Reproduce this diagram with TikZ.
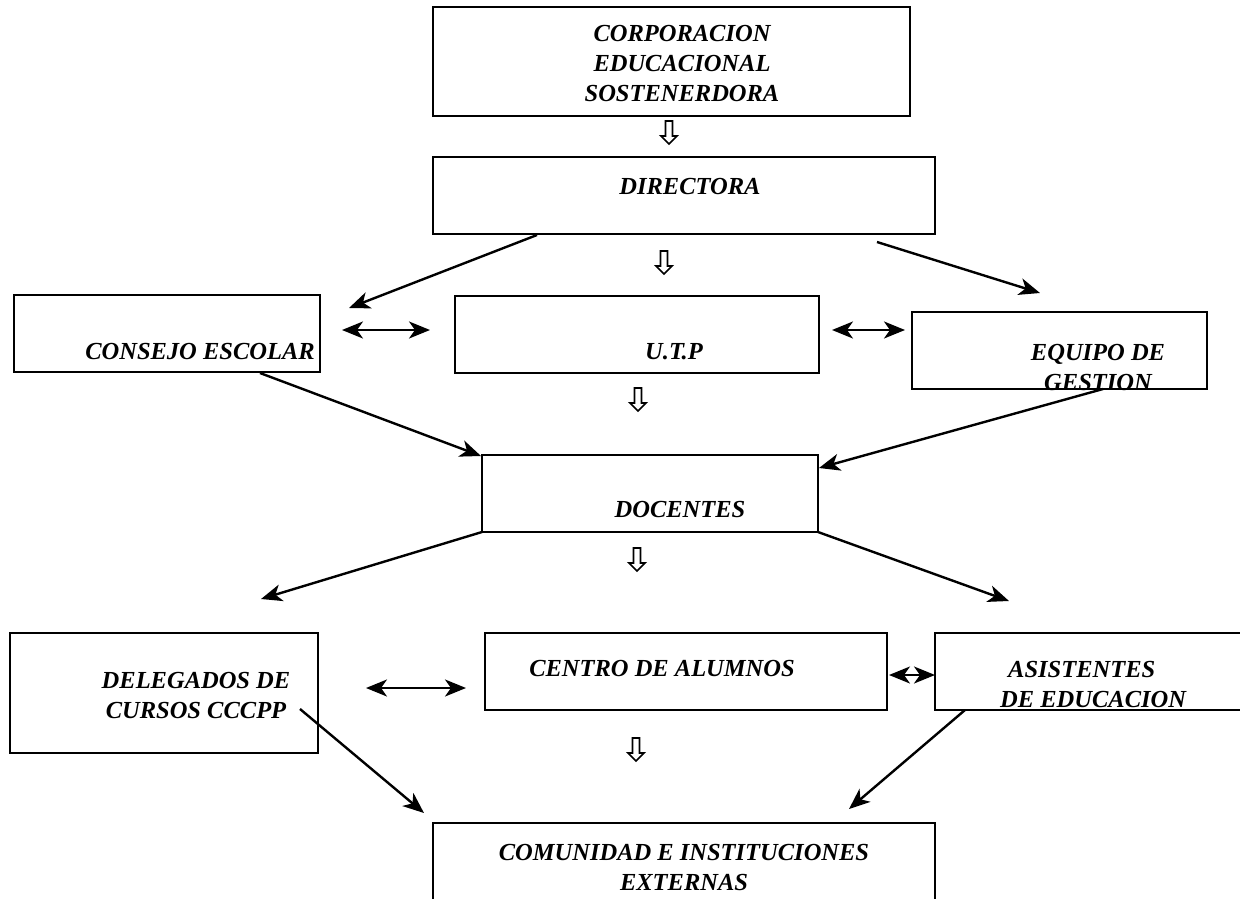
\documentclass[tikz,border=0pt]{standalone}
\usepackage{fontspec}
\setmainfont{Liberation Serif}
\usetikzlibrary{arrows.meta}
\newcommand\lblfont{\fontsize{24.5}{30}\selectfont\bfseries\itshape}
\tikzset{
  box/.style={draw, line width=2.5pt, inner sep=0pt, outer sep=0pt, anchor=north west},
  lbl/.style={font=\lblfont, inner sep=0pt, anchor=base, align=center},
  tip/.tip={Stealth[length=21pt,width=17pt,inset=6pt]},
  conn/.style={line width=2.4pt, -tip},
  dconn/.style={line width=2.4pt, tip-tip},
  harrow/.pic={
    \draw[line width=1.7pt, line join=miter]
      (-3.5,0) -- (3.5,0) -- (3.5,15) -- (8,15) -- (0,23) -- (-8,15) -- (-3.5,15) -- cycle;
  }
}
\begin{document}
\begin{tikzpicture}[x=1pt,y=-1pt]
\useasboundingbox (0,0) rectangle (1240,899);
% boxes
\node[box, minimum width=477pt, minimum height=109pt] (corp) at (433,7) {};
\node[box, minimum width=502pt, minimum height=77pt] (dir) at (433,157) {};
\node[box, minimum width=306pt, minimum height=77pt] (cons) at (14,295) {};
\node[box, minimum width=364pt, minimum height=77pt] (utp) at (455,296) {};
\node[box, minimum width=295pt, minimum height=77pt] (equ) at (912,312) {};
\node[box, minimum width=336pt, minimum height=77pt] (doc) at (482,455) {};
\node[box, minimum width=308pt, minimum height=120pt] (del) at (10,633) {};
\node[box, minimum width=402pt, minimum height=77pt] (cen) at (485,633) {};
\node[box, minimum width=320pt, minimum height=77pt] (asi) at (935,633) {};
\node[box, minimum width=502pt, minimum height=110pt] (com) at (433,823) {};
% labels
\node[lbl] (tcorp) at (682,102) {CORPORACION\\EDUCACIONAL\\SOSTENERDORA};
\node[lbl] (tdir) at (690,194) {DIRECTORA};
\node[lbl] (tcons) at (200,359) {CONSEJO ESCOLAR};
\node[lbl] (tutp) at (674,359) {U.T.P};
\node[lbl] (tequ) at (1098,390) {EQUIPO DE\\GESTION};
\node[lbl] (tdoc) at (680,517) {DOCENTES};
\node[lbl] (tdel) at (196,718) {DELEGADOS DE\\CURSOS CCCPP};
\node[lbl] (tcen) at (662,676) {CENTRO DE ALUMNOS};
\node[lbl, anchor=base west, align=left] (tasi) at (1000,707) {\hspace{8pt}ASISTENTES\\DE EDUCACION};
\node[lbl] (tcom) at (684,890) {COMUNIDAD E INSTITUCIONES\\EXTERNAS};
% hollow arrows
\pic at (669,121) {harrow};
\pic at (664,251) {harrow};
\pic at (638,388) {harrow};
\pic at (637,548) {harrow};
\pic at (636,738) {harrow};
% connector endpoints
\coordinate (d1) at (537,235);
\coordinate (d1e) at (349,308);
\coordinate (d2) at (877,242);
\coordinate (d2e) at (1040,293);
\coordinate (cu1) at (342,330);
\coordinate (cu2) at (430,330);
\coordinate (ue1) at (832,330);
\coordinate (ue2) at (905,330);
\coordinate (c1) at (260,373);
\coordinate (c1e) at (481,456);
\coordinate (e1) at (1103,389);
\coordinate (e1e) at (819,468);
\coordinate (o1) at (482,532);
\coordinate (o1e) at (261,599);
\coordinate (o2) at (818,532);
\coordinate (o2e) at (1009,601);
\coordinate (dc1) at (366,688);
\coordinate (dc2) at (466,688);
\coordinate (ca1) at (889,675);
\coordinate (ca2) at (935,675);
\coordinate (l1) at (300,709);
\coordinate (l1e) at (424,813);
\coordinate (a1) at (965,710);
\coordinate (a1e) at (849,809);
% connectors
\draw[conn] (d1) -- (d1e);
\draw[conn] (d2) -- (d2e);
\draw[dconn] (cu1) -- (cu2);
\draw[dconn] (ue1) -- (ue2);
\draw[conn] (c1) -- (c1e);
\draw[conn] (e1) -- (e1e);
\draw[conn] (o1) -- (o1e);
\draw[conn] (o2) -- (o2e);
\draw[dconn] (dc1) -- (dc2);
\draw[dconn] (ca1) -- (ca2);
\draw[conn] (l1) -- (l1e);
\draw[conn] (a1) -- (a1e);
\end{tikzpicture}
\end{document}
